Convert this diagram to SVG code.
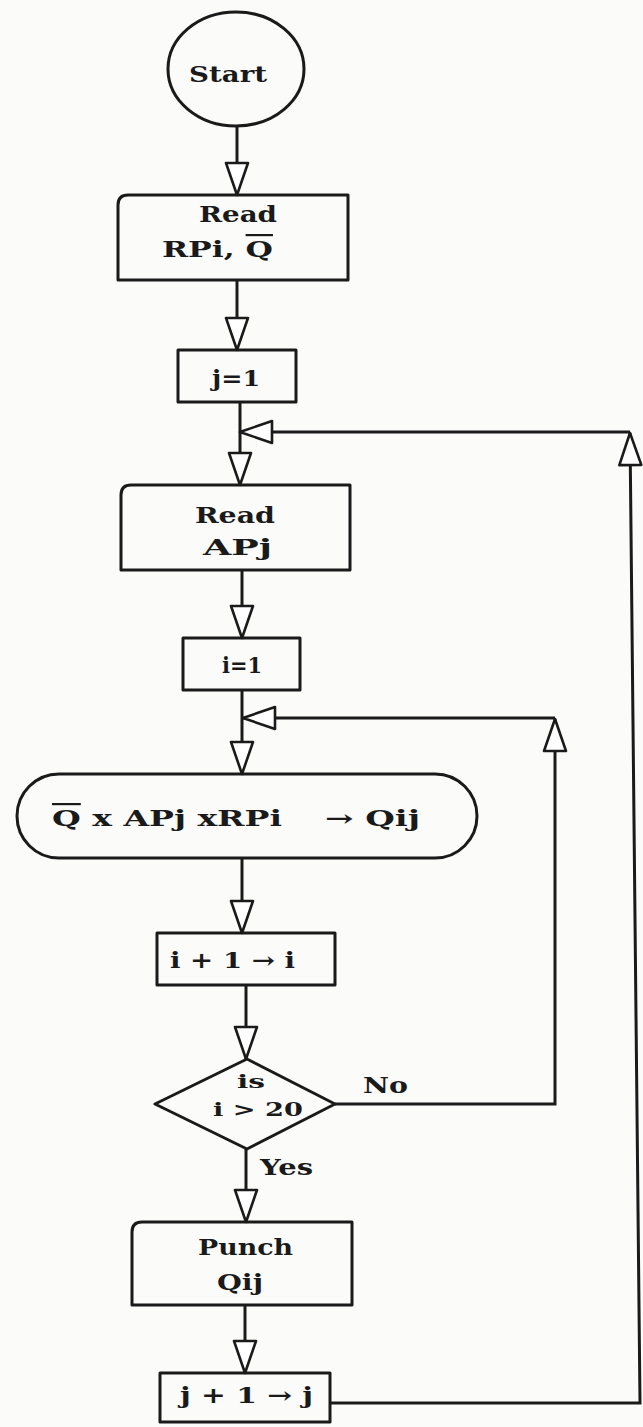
<svg xmlns="http://www.w3.org/2000/svg" width="643" height="1427" viewBox="0 0 643 1427">
<style>
.shape{fill:none;stroke:#1a1a1a;stroke-width:3;stroke-linejoin:round}
.conn{fill:none;stroke:#1a1a1a;stroke-width:3;marker-end:url(#tri)}
.lbl{font-family:"DejaVu Serif","Liberation Serif",serif;font-weight:bold;font-size:22px;fill:#1a1a1a}
.sm{font-size:19px}
</style>
<defs>
<marker id="tri" markerUnits="userSpaceOnUse" viewBox="0 0 36 26" refX="34" refY="13" markerWidth="36" markerHeight="26" orient="auto">
<path d="M2,2 L34,13 L2,24 Z" fill="#fff" stroke="#1a1a1a" stroke-width="2.6" stroke-linejoin="round"/>
</marker>
</defs>
<rect width="643" height="1427" fill="#fbfbfa"/>
<g id="connectors">
<path class="conn" d="M237,126 V195"/>
<path class="conn" d="M237,280 V350"/>
<path class="conn" d="M240,402 V485"/>
<path class="conn" d="M330,1403 H640 L630,433"/>
<path class="conn" d="M630,432 H240"/>
<path class="conn" d="M242,570 V638"/>
<path class="conn" d="M242,690 V774"/>
<path class="conn" d="M335,1104 H555 V719"/>
<path class="conn" d="M555,718 H243"/>
<path class="conn" d="M242,858 V933"/>
<path class="conn" d="M246,985 V1059"/>
<path class="conn" d="M246,1149 V1222"/>
<path class="conn" d="M245,1305 V1373"/>
</g>
<g id="start">
<ellipse class="shape" cx="236" cy="69" rx="68" ry="57"/>
<text class="lbl" x="189" y="82" textLength="78" lengthAdjust="spacingAndGlyphs">Start</text>
</g>
<g id="read-rpi">
<path class="shape" d="M118,205 Q118,195 128,195 H348 V280 H118 Z"/>
<text class="lbl" x="199" y="222" textLength="78" lengthAdjust="spacingAndGlyphs">Read</text>
<text class="lbl" x="162" y="257" textLength="111" lengthAdjust="spacingAndGlyphs">RPi, <tspan text-decoration="overline">Q</tspan></text>
</g>
<g id="j-init">
<rect class="shape" x="178" y="350" width="118" height="52"/>
<text class="lbl" x="212" y="386" textLength="48" lengthAdjust="spacingAndGlyphs">j=1</text>
</g>
<g id="read-apj">
<path class="shape" d="M121,495 Q121,485 131,485 H350 V570 H121 Z"/>
<text class="lbl" x="195" y="523" textLength="80" lengthAdjust="spacingAndGlyphs">Read</text>
<text class="lbl" x="203" y="555" textLength="69" lengthAdjust="spacingAndGlyphs">APj</text>
</g>
<g id="i-init">
<rect class="shape" x="183" y="638" width="117" height="52"/>
<text class="lbl" x="222" y="673" textLength="40" lengthAdjust="spacingAndGlyphs">i=1</text>
</g>
<g id="compute">
<rect class="shape" x="17" y="774" width="460" height="84" rx="42" ry="42"/>
<text class="lbl" x="52" y="826" textLength="230" lengthAdjust="spacingAndGlyphs"><tspan text-decoration="overline">Q</tspan> x APj xRPi</text>
<text class="lbl" x="325" y="826" textLength="95" lengthAdjust="spacingAndGlyphs">→ Qij</text>
</g>
<g id="i-incr">
<rect class="shape" x="157" y="933" width="178" height="52"/>
<text class="lbl" x="170" y="968" textLength="125" lengthAdjust="spacingAndGlyphs">i + 1 → i</text>
</g>
<g id="decision">
<path class="shape" d="M247,1059 L335,1104 L247,1149 L155,1104 Z"/>
<text class="lbl sm" x="237" y="1088" textLength="28" lengthAdjust="spacingAndGlyphs">is</text>
<text class="lbl sm" x="213" y="1116" textLength="90" lengthAdjust="spacingAndGlyphs">i &gt; 20</text>
<text class="lbl" x="363" y="1093" textLength="45" lengthAdjust="spacingAndGlyphs">No</text>
<text class="lbl" x="260" y="1175" textLength="53" lengthAdjust="spacingAndGlyphs">Yes</text>
</g>
<g id="punch">
<path class="shape" d="M132,1232 Q132,1222 142,1222 H352 V1305 H132 Z"/>
<text class="lbl" x="198" y="1255" textLength="95" lengthAdjust="spacingAndGlyphs">Punch</text>
<text class="lbl" x="217" y="1290" textLength="46" lengthAdjust="spacingAndGlyphs">Qij</text>
</g>
<g id="j-incr">
<rect class="shape" x="160" y="1373" width="170" height="49"/>
<text class="lbl" x="180" y="1403" textLength="133" lengthAdjust="spacingAndGlyphs">j + 1 → j</text>
</g>
</svg>
